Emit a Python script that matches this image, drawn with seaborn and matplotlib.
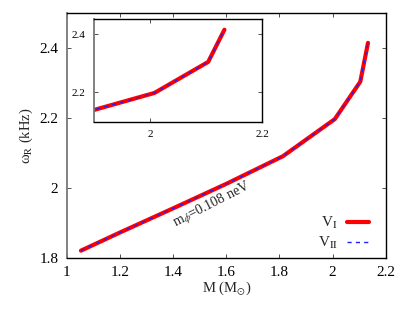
import matplotlib
matplotlib.use("Agg")
import matplotlib.pyplot as plt
import seaborn as sns
import pandas as pd

# mass (M_sun) and frequency omega_R (kHz)
mass = [1.053, 1.2, 1.4, 1.6, 1.813, 2.008, 2.104, 2.133]
omega_v1 = [1.821, 1.873, 1.942, 2.012, 2.091, 2.197, 2.304, 2.415]
omega_v2 = [1.821, 1.873, 1.942, 2.012, 2.091, 2.197, 2.304, 2.415]

main_xticks = [1, 1.2, 1.4, 1.6, 1.8, 2, 2.2]
main_yticks = [1.8, 2, 2.2, 2.4]
inset_xticks = [2, 2.2]
inset_yticks = [2.2, 2.4]

df = pd.DataFrame({"M": mass, "V1": omega_v1, "V2": omega_v2})

sns.set_style("ticks")
plt.rcParams["font.family"] = ["Liberation Serif", "DejaVu Serif"]
plt.rcParams["mathtext.fontset"] = "stix"
plt.rcParams["xtick.direction"] = "in"
plt.rcParams["ytick.direction"] = "in"


def style_axes(ax, size):
    ax.tick_params(top=True, right=True, length=3, width=0.6,
                   labelsize=size, colors="#333333", labelcolor="black", pad=6)
    for side in ["top", "right", "bottom"]:
        ax.spines[side].set_color("black")
        ax.spines[side].set_linewidth(1.0)
    ax.spines["left"].set_color("#777777")
    ax.spines["left"].set_linewidth(1.3)


def draw(ax, legend):
    sns.lineplot(data=df, x="M", y="V1", ax=ax, sort=False, color="#ff0000",
                 lw=3.0, label=r"V$_{\rm I}$" if legend else None)
    sns.lineplot(data=df, x="M", y="V2", ax=ax, sort=False, color="#2020ff",
                 lw=1.0, ls=(0, (3, 3)), label=r"V$_{\rm II}$" if legend else None)


fig = plt.figure(figsize=(4.1, 3.16), dpi=100)
ax = fig.add_axes([0.163, 0.1835, 0.778, 0.775])
draw(ax, True)
ax.set_xlim(1, 2.2)
ax.set_ylim(1.8, 2.5)
ax.set_xticks(main_xticks)
ax.set_xticklabels([f"{t:g}" for t in main_xticks])
ax.set_yticks(main_yticks)
ax.set_yticklabels([f"{t:g}" for t in main_yticks])
style_axes(ax, 11)
ax.set_xlabel(r"M (M$_{\odot}$)", fontsize=10.5, labelpad=0)
ax.set_ylabel(r"ω$_{\rm R}$ (kHz)", fontsize=10.5, labelpad=3)
ax.text(1.545, 1.952, r"m$_{\phi}$=0.108 neV", rotation=27, fontsize=10,
        ha="center", va="center")
ax.legend(loc="lower right", frameon=False, markerfirst=False, fontsize=11,
          handlelength=1.4, borderaxespad=0.2, labelspacing=0.25,
          handletextpad=0.6, bbox_to_anchor=(0.975, -0.01))

ins = fig.add_axes([0.229, 0.614, 0.41, 0.326])
draw(ins, False)
ins.set_xlim(1.9, 2.2)
ins.set_ylim(2.097, 2.452)
ins.set_xticks(inset_xticks)
ins.set_xticklabels([f"{t:g}" for t in inset_xticks])
ins.set_yticks(inset_yticks)
ins.set_yticklabels([f"{t:g}" for t in inset_yticks])
style_axes(ins, 8)
ins.set_xlabel("")
ins.set_ylabel("")

fig.savefig("out.png", dpi=100)
